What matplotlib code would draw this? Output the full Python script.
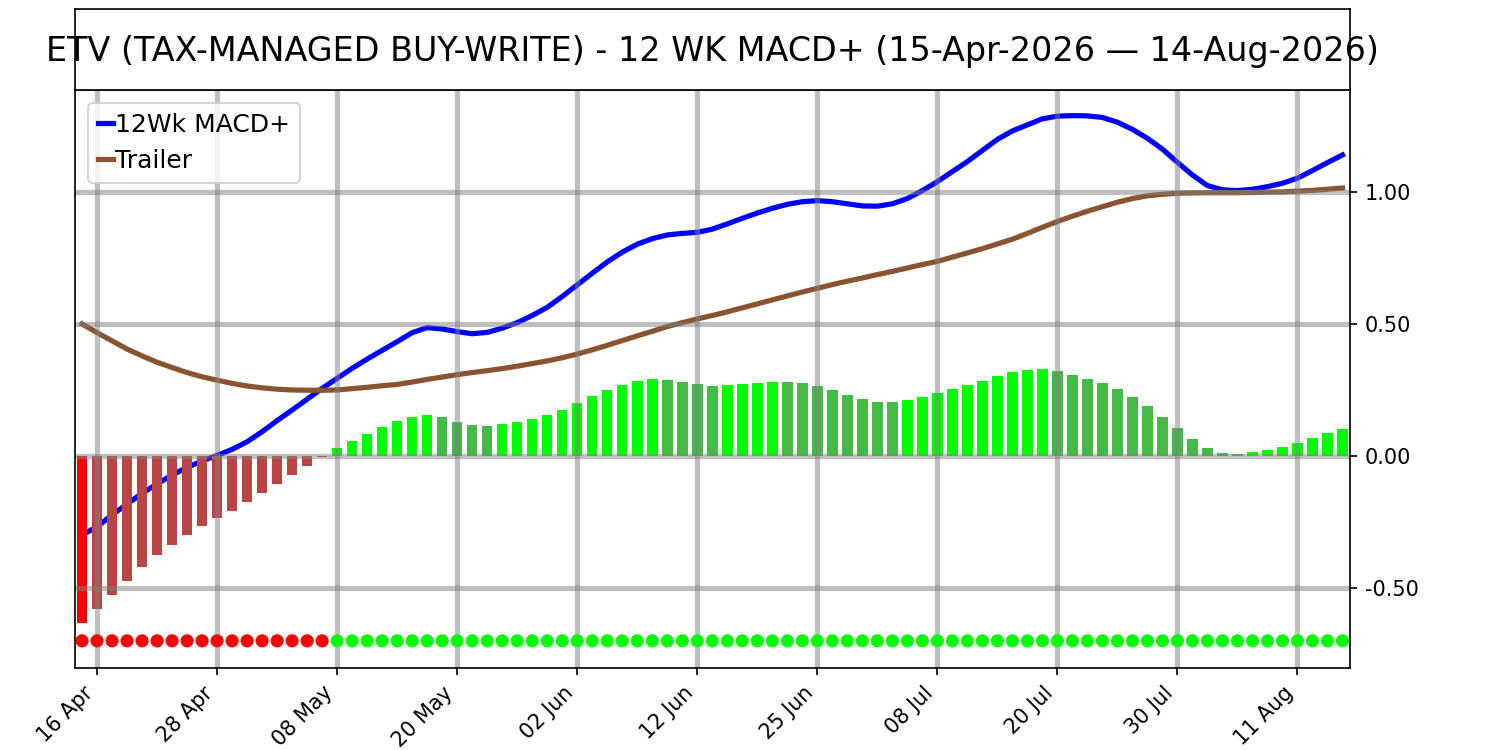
import numpy as np
import pandas as pd
import matplotlib
matplotlib.use("Agg")
import matplotlib.pyplot as plt
from matplotlib.ticker import FormatStrFormatter

# trading days 15-Apr-2026 .. 14-Aug-2026 (NYSE holidays removed)
holidays = ["2026-05-25", "2026-06-19", "2026-07-03"]
dates = pd.bdate_range("2026-04-15", "2026-08-14", freq="C", holidays=holidays)

macd_plus = [
    -0.299, -0.268, -0.223, -0.182, -0.141, -0.106, -0.072, -0.043, -0.019, 0.002,
    0.025, 0.054, 0.092, 0.134, 0.174, 0.215, 0.256, 0.294, 0.332, 0.367,
    0.400, 0.433, 0.467, 0.486, 0.481, 0.471, 0.463, 0.468, 0.484, 0.505,
    0.532, 0.563, 0.604, 0.648, 0.692, 0.735, 0.772, 0.802, 0.823, 0.837,
    0.843, 0.847, 0.859, 0.879, 0.900, 0.920, 0.938, 0.953, 0.963, 0.967,
    0.963, 0.955, 0.947, 0.946, 0.955, 0.975, 1.005, 1.039, 1.077, 1.115,
    1.157, 1.199, 1.231, 1.254, 1.277, 1.287, 1.289, 1.288, 1.282, 1.264,
    1.237, 1.203, 1.162, 1.112, 1.064, 1.024, 1.008, 1.005, 1.010, 1.020,
    1.033, 1.052, 1.081, 1.111, 1.140,
]

trailer = [
    0.500, 0.467, 0.436, 0.405, 0.379, 0.355, 0.335, 0.316, 0.300, 0.287,
    0.275, 0.265, 0.258, 0.253, 0.250, 0.249, 0.249, 0.250, 0.255, 0.260,
    0.266, 0.271, 0.280, 0.290, 0.299, 0.308, 0.316, 0.323, 0.331, 0.340,
    0.350, 0.360, 0.372, 0.386, 0.402, 0.419, 0.437, 0.455, 0.472, 0.490,
    0.505, 0.519, 0.532, 0.546, 0.561, 0.576, 0.591, 0.606, 0.621, 0.635,
    0.649, 0.662, 0.674, 0.687, 0.699, 0.712, 0.725, 0.737, 0.753, 0.769,
    0.785, 0.803, 0.821, 0.843, 0.866, 0.888, 0.908, 0.927, 0.944, 0.961,
    0.975, 0.985, 0.991, 0.995, 0.996, 0.997, 0.997, 0.997, 0.998, 0.999,
    1.000, 1.003, 1.006, 1.010, 1.015,
]

histogram = [
    -0.634, -0.581, -0.525, -0.472, -0.422, -0.374, -0.336, -0.298, -0.264, -0.233,
    -0.207, -0.173, -0.139, -0.105, -0.071, -0.037, -0.005, 0.030, 0.057, 0.083,
    0.110, 0.133, 0.148, 0.155, 0.148, 0.129, 0.117, 0.114, 0.121, 0.129,
    0.140, 0.155, 0.174, 0.201, 0.227, 0.250, 0.269, 0.284, 0.292, 0.288,
    0.280, 0.273, 0.265, 0.269, 0.274, 0.277, 0.281, 0.280, 0.276, 0.265,
    0.250, 0.231, 0.216, 0.205, 0.204, 0.212, 0.223, 0.239, 0.254, 0.269,
    0.284, 0.303, 0.318, 0.326, 0.330, 0.322, 0.307, 0.292, 0.277, 0.254,
    0.223, 0.189, 0.148, 0.106, 0.064, 0.030, 0.011, 0.008, 0.015, 0.023,
    0.034, 0.049, 0.068, 0.087, 0.102,
]

y_ticks = [-0.5, 0.0, 0.5, 1.0]
signal_level = -0.70
title = "ETV (TAX-MANAGED BUY-WRITE) - 12 WK MACD+ (15-Apr-2026 \u2014 14-Aug-2026)"

x = np.arange(len(dates))
hist = np.array(histogram)

# bright colour when the histogram grows away from zero, dull when it shrinks
bar_colors = []
for i, v in enumerate(hist):
    prev = hist[i - 1] if i > 0 else 0.0
    if v >= 0:
        bar_colors.append("#00ff00" if v > prev else "#44bb44")
    else:
        bar_colors.append("#ff0000" if v < prev else "#bb4444")
dot_colors = ["#00ff00" if v >= 0 else "#ff0000" for v in hist]

fig = plt.figure(figsize=(10, 5), dpi=150)
ax = fig.add_axes([0.05, 0.1093, 0.85, 0.7707])
tax = fig.add_axes([0.05, 0.88, 0.85, 0.108])
tax.set_xticks([])
tax.set_yticks([])
tax.text(0.5, 0.47, title, ha="center", va="center", fontsize=16, transform=tax.transAxes)

ax.plot(x, macd_plus, color="#0000ff", lw=2.5, label="12Wk MACD+", zorder=0.9)
ax.plot(x, trailer, color="#8a5430", lw=2.5, label="Trailer", zorder=0.9)
ax.bar(x, hist, width=0.7, color=bar_colors, zorder=1)
ax.scatter(x, np.full(len(x), signal_level), s=28, c=dot_colors, zorder=3)

tick_idx = x[1::8]
ax.set_xticks(tick_idx)
ax.set_xticklabels([dates[i].strftime("%d %b") for i in tick_idx], rotation=45, ha="right")
ax.yaxis.tick_right()
ax.set_yticks(y_ticks)
ax.yaxis.set_major_formatter(FormatStrFormatter("%.2f"))
ax.tick_params(labelsize=10)
ax.set_xlim(-0.47, len(x) - 0.5)
ax.set_ylim(-0.803, 1.386)
ax.grid(True, color="grey", alpha=0.5, lw=2.5)

leg = ax.legend(loc="upper left", fontsize=12, handlelength=0.6, handletextpad=0.1,
                borderpad=0.4, labelspacing=0.5)
for h in leg.get_lines():
    h.set_linewidth(2.5)

fig.savefig("out.png", dpi=150)
